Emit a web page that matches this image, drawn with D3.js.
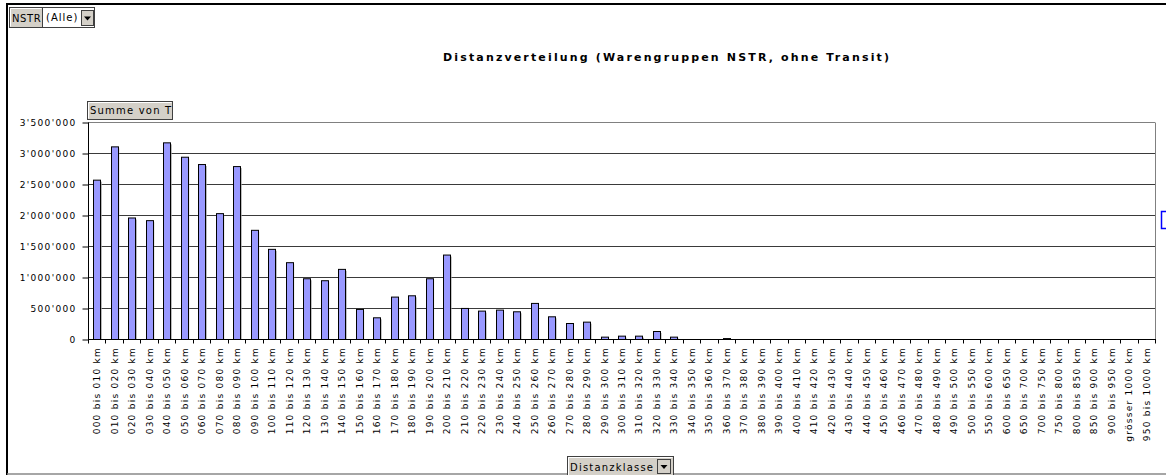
<!DOCTYPE html>
<html>
<head>
<meta charset="utf-8">
<script src="https://cdn.jsdelivr.net/npm/d3@7"></script>
<style>
  body { margin: 0; background: #fff; }
  svg text { font-family: "DejaVu Sans", Verdana, sans-serif; }
</style>
</head>
<body>
<script>
var width = 1166, height = 475;

// Distanzklassen (x categories)
var categories = [
  "000 bis 010 km", "010 bis 020 km", "020 bis 030 km", "030 bis 040 km", "040 bis 050 km",
  "050 bis 060 km", "060 bis 070 km", "070 bis 080 km", "080 bis 090 km", "090 bis 100 km",
  "100 bis 110 km", "110 bis 120 km", "120 bis 130 km", "130 bis 140 km", "140 bis 150 km",
  "150 bis 160 km", "160 bis 170 km", "170 bis 180 km", "180 bis 190 km", "190 bis 200 km",
  "200 bis 210 km", "210 bis 220 km", "220 bis 230 km", "230 bis 240 km", "240 bis 250 km",
  "250 bis 260 km", "260 bis 270 km", "270 bis 280 km", "280 bis 290 km", "290 bis 300 km",
  "300 bis 310 km", "310 bis 320 km", "320 bis 330 km", "330 bis 340 km", "340 bis 350 km",
  "350 bis 360 km", "360 bis 370 km", "370 bis 380 km", "380 bis 390 km", "390 bis 400 km",
  "400 bis 410 km", "410 bis 420 km", "420 bis 430 km", "430 bis 440 km", "440 bis 450 km",
  "450 bis 460 km", "460 bis 470 km", "470 bis 480 km", "480 bis 490 km", "490 bis 500 km",
  "500 bis 550 km", "550 bis 600 km", "600 bis 650 km", "650 bis 700 km", "700 bis 750 km",
  "750 bis 800 km", "800 bis 850 km", "850 bis 900 km", "900 bis 950 km", "grösser 1000 km",
  "950 bis 1000 km"
];

// Summe von T
var values = [
  2570000, 3107000, 1960000, 1917000, 3172000,
  2940000, 2822000, 2030000, 2789000, 1761000,
  1454000, 1239000, 980000, 948000, 1131000,
  485000, 350000, 684000, 705000, 980000,
  1362000, 501000, 458000, 474000, 447000,
  582000, 366000, 258000, 280000, 38000,
  54000, 54000, 129000, 38000, 0,
  0, 15000, 0, 0, 0,
  0, 0, 0, 0, 0,
  0, 0, 0, 0, 0,
  0, 0, 0, 0, 0,
  0, 0, 0, 0, 0,
  0
];

var yTicks = [0, 500000, 1000000, 1500000, 2000000, 2500000, 3000000, 3500000];

var title = "Distanzverteilung (Warengruppen NSTR, ohne Transit)";

var plotLeft = 88, plotRight = 1155, plotTop = 122, plotBottom = 339;

var fmt = d3.formatLocale({decimal: ".", thousands: "'", grouping: [3], currency: ["", ""]}).format(",");

var data = categories.map(function(c, i) { return {name: c, value: values[i]}; });

var svg = d3.select("body").append("svg")
    .attr("width", width)
    .attr("height", height);

var x = d3.scaleBand()
    .domain(categories)
    .range([plotLeft, plotRight])
    .paddingInner(0.6)
    .paddingOuter(0.3);

var y = d3.scaleLinear()
    .domain([0, 3500000])
    .range([plotBottom + 0.5, plotTop + 0.5]);

// outer frame
svg.append("line").attr("x1", 7).attr("x2", width).attr("y1", 4).attr("y2", 4)
    .attr("stroke", "#000").attr("stroke-width", 2);
svg.append("line").attr("x1", 7).attr("x2", 7).attr("y1", 3).attr("y2", 475)
    .attr("stroke", "#000").attr("stroke-width", 2);
svg.append("line").attr("x1", 7).attr("x2", width).attr("y1", 474).attr("y2", 474)
    .attr("stroke", "#888").attr("stroke-width", 1.5);

// title
svg.append("text")
    .attr("x", 443).attr("y", 61)
    .attr("textLength", 446).attr("lengthAdjust", "spacing")
    .style("font-size", "11px").style("font-weight", "bold")
    .text(title);

// gridlines
svg.append("g").selectAll("line")
  .data(yTicks.filter(function(d) { return d > 0; }))
  .enter().append("line")
    .attr("x1", plotLeft).attr("x2", plotRight)
    .attr("y1", function(d) { return y(d); })
    .attr("y2", function(d) { return y(d); })
    .attr("stroke", function(d) { return d === 3500000 ? "#808080" : "#3a3a3a"; })
    .attr("stroke-width", 1);

// right frame of plot
svg.append("line")
    .attr("x1", plotRight + 0.5).attr("x2", plotRight + 0.5)
    .attr("y1", y(3500000)).attr("y2", y(0))
    .attr("stroke", "#808080");

// bars (shadow + bar)
var barData = data.filter(function(d) { return d.value > 0; });

svg.append("g").selectAll("rect")
  .data(barData)
  .enter().append("rect")
    .attr("x", function(d) { return x(d.name) + 1.5; })
    .attr("y", function(d) { return y(d.value) + 1.5; })
    .attr("width", x.bandwidth())
    .attr("height", function(d) { return y(0) - y(d.value) - 1.5; })
    .attr("fill", "#a0a0a0");

svg.append("g").selectAll("rect")
  .data(barData)
  .enter().append("rect")
    .attr("x", function(d) { return Math.round(x(d.name)) + 0.5; })
    .attr("y", function(d) { return y(d.value); })
    .attr("width", Math.round(x.bandwidth()))
    .attr("height", function(d) { return y(0) - y(d.value); })
    .attr("fill", "#9999ff")
    .attr("stroke", "#000")
    .attr("stroke-width", 1);

// y axis
var yAxis = svg.append("g")
    .attr("transform", "translate(" + (plotLeft + 0.5) + ",0)")
    .call(d3.axisLeft(y).tickValues(yTicks).tickFormat(fmt).tickSize(6).tickPadding(6));
yAxis.select(".domain").attr("stroke", "#000").attr("d", "M0," + y(3500000) + "V" + y(0));
yAxis.selectAll("text")
    .style("font-size", "9px")
    .style("letter-spacing", "1.3px")
    .attr("fill", "#000");

// x axis line with ticks at category boundaries
var step = x.step();
svg.append("line")
    .attr("x1", plotLeft).attr("x2", plotRight + 1)
    .attr("y1", y(0)).attr("y2", y(0))
    .attr("stroke", "#000");
svg.append("g").selectAll("line")
  .data(d3.range(categories.length + 1))
  .enter().append("line")
    .attr("x1", function(i) { return Math.round(plotLeft + i * step) + 0.5; })
    .attr("x2", function(i) { return Math.round(plotLeft + i * step) + 0.5; })
    .attr("y1", y(0)).attr("y2", y(0) + 4)
    .attr("stroke", "#000");

// x labels, rotated
svg.append("g").selectAll("text")
  .data(categories)
  .enter().append("text")
    .attr("transform", function(d) {
      return "translate(" + (x(d) + x.bandwidth() / 2 + 3.5) + "," + 347 + ") rotate(-90)";
    })
    .attr("text-anchor", "end")
    .style("font-size", "9px")
    .style("letter-spacing", "1.25px")
    .text(function(d) { return d; });

// pivot field buttons
function button(g, bx, by, bw, bh, label, fs, ls) {
  g.append("rect").attr("x", bx + 0.5).attr("y", by + 0.5).attr("width", bw).attr("height", bh)
      .attr("fill", "#d4d0c8").attr("stroke", "#404040");
  g.append("line").attr("x1", bx + 1.5).attr("x2", bx + bw - 0.5).attr("y1", by + 1.5).attr("y2", by + 1.5)
      .attr("stroke", "#fff");
  g.append("line").attr("x1", bx + 1.5).attr("x2", bx + 1.5).attr("y1", by + 1.5).attr("y2", by + bh - 0.5)
      .attr("stroke", "#fff");
  g.append("text").attr("x", bx + 3).attr("y", by + bh - 5)
      .style("font-size", fs + "px").style("letter-spacing", ls + "px")
      .text(label);
}
function arrowBtn(g, bx, by, bw, bh) {
  g.append("rect").attr("x", bx + 0.5).attr("y", by + 0.5).attr("width", bw).attr("height", bh)
      .attr("fill", "#d4d0c8").attr("stroke", "#404040");
  var cx = bx + bw / 2 + 0.5, cy = by + bh / 2 + 1;
  g.append("path").attr("d", "M" + (cx - 3.5) + "," + (cy - 2) + "L" + (cx + 3.5) + "," + (cy - 2) + "L" + cx + "," + (cy + 2) + "Z")
      .attr("fill", "#000");
}

var ui = svg.append("g");
button(ui, 9, 7, 33, 20, "NSTR", 10, 0.6);
ui.append("rect").attr("x", 42.5).attr("y", 7.5).attr("width", 52).attr("height", 20)
    .attr("fill", "#fff").attr("stroke", "#404040");
ui.append("text").attr("x", 46).attr("y", 21).style("font-size", "10px").style("letter-spacing", "1px").text("(Alle)");
arrowBtn(ui, 81, 10, 12, 15);

button(ui, 87, 101, 85, 18, "Summe von T", 10, 1.2);

button(ui, 567, 456, 106, 20, "Distanzklasse", 10, 1.2);
arrowBtn(ui, 657, 459, 13, 14);

// selection marker at right edge
svg.append("path")
    .attr("d", "M1167,211.5H1161.5V228.5H1167")
    .attr("fill", "none").attr("stroke", "#0000ff").attr("stroke-width", 1.5);
</script>
</body>
</html>
